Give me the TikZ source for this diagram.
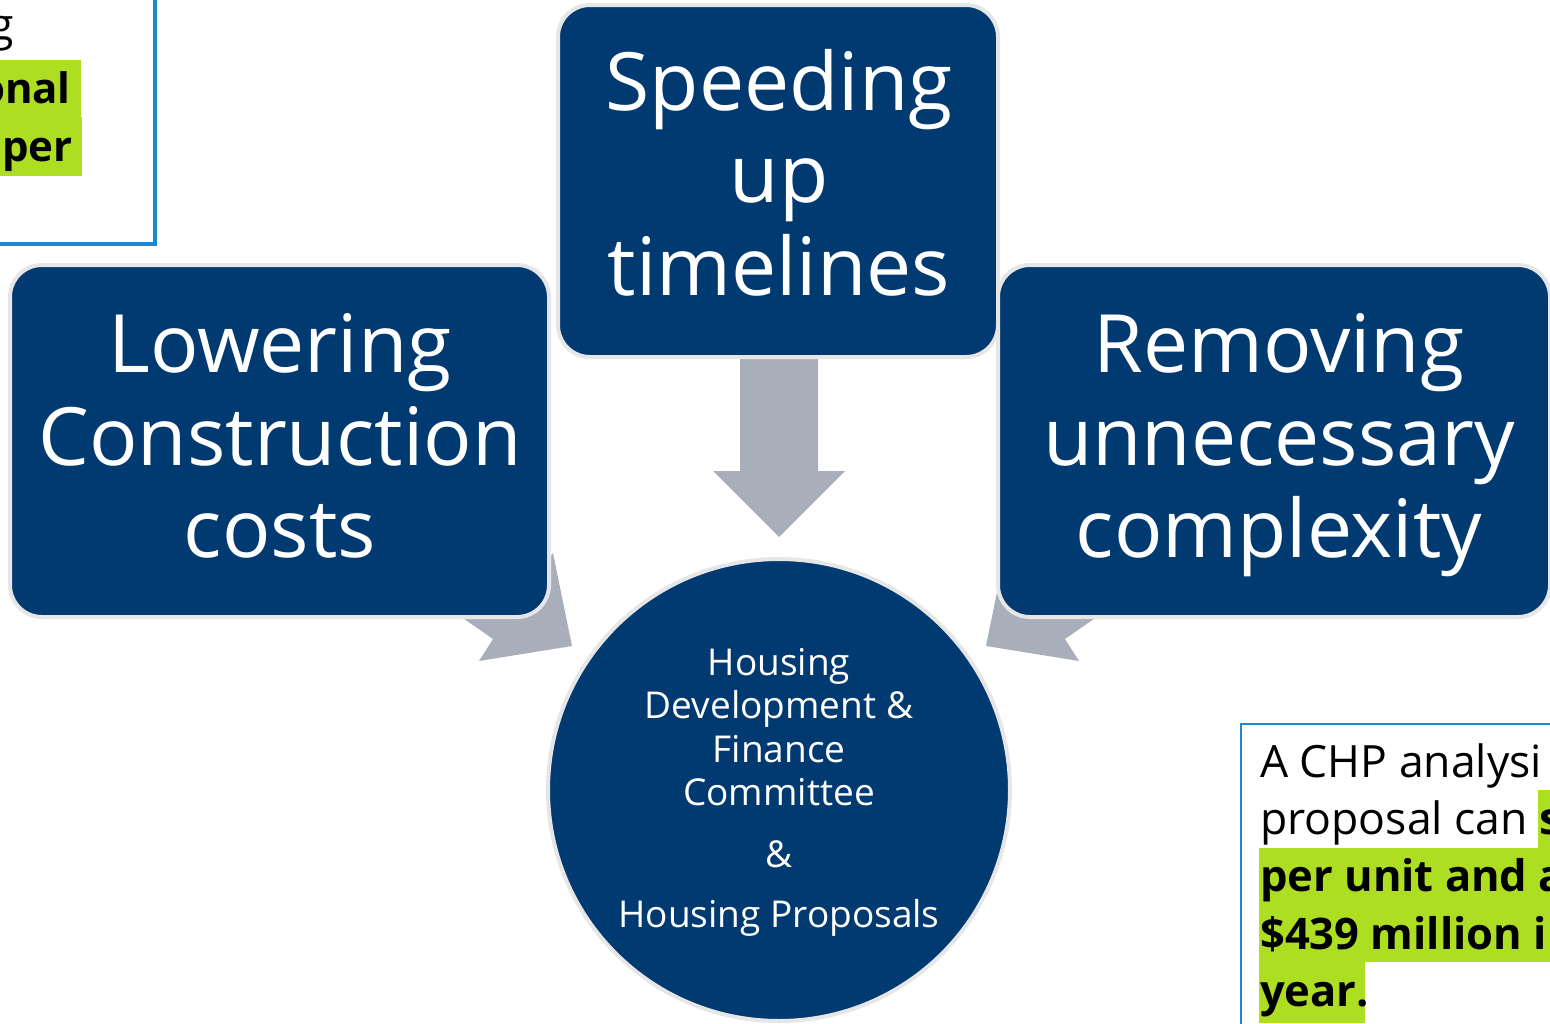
\documentclass[tikz,border=0pt]{standalone}
\usepackage{fontspec}
\setmainfont{Open Sans}
\definecolor{navy}{RGB}{0,58,112}
\definecolor{edgegray}{RGB}{230,230,230}
\definecolor{arrowgray}{RGB}{169,174,187}
\definecolor{hl}{RGB}{173,222,33}
\definecolor{frameblue}{RGB}{28,135,209}
\begin{document}
\begin{tikzpicture}[x=1pt,y=-1pt,
  box/.style={draw=edgegray, line width=4pt, fill=navy, rounded corners=32pt, inner sep=0pt},
  circ/.style={circle, draw=edgegray, line width=4pt, fill=navy, inner sep=0pt},
  big/.style={text=white, font=\fontsize{80.5}{92}\selectfont, inner sep=0pt, anchor=base},
  mid/.style={text=white, font=\fontsize{37}{44}\selectfont, inner sep=0pt, anchor=base},
  note/.style={text=black, font=\fontsize{44.5}{57}\selectfont, inner sep=0pt},
  notebold/.style={text=black, font=\fontsize{43.5}{57}\selectfont\bfseries, inner sep=0pt},
  blockarrow/.style={fill=arrowgray},
  frame/.style={draw=frameblue}
]
\useasboundingbox (0,0) rectangle (1550,1023);
\begin{scope}
\clip (0,0) rectangle (1550,1023);

% top-left note (cut off)
\fill[hl] (0,60) rectangle (81,117);
\fill[hl] (0,117) rectangle (82,176);
\node[note, anchor=base east] (tl1) at (14,40) {g};
\node[notebold, font=\fontsize{42}{57}\selectfont\bfseries, anchor=base east] (tl2) at (71,103) {onal};
\node[notebold, font=\fontsize{42}{57}\selectfont\bfseries, anchor=base east] (tl3) at (73,161) {per};
\draw[frame, line width=4pt] (-20,244) -| (155,-20);

% block arrows
\fill[blockarrow] (740,359) -- (818,359) -- (818,471) -- (845,471) -- (779,537) -- (713,471) -- (740,471) -- cycle;
\fill[blockarrow] (457,516) -- (539,573) -- (553,553) -- (572,646) -- (479,661) -- (493,639) -- (411,582) -- cycle;
\fill[blockarrow] (1101,516) -- (1019,573) -- (1005,553) -- (986,646) -- (1079,661) -- (1065,639) -- (1147,582) -- cycle;

% boxes
\node[box, minimum width=440pt, minimum height=352pt] (top) at (778,181) {};
\node[box, minimum width=539pt, minimum height=352pt] (left) at (279.5,441) {};
\node[box, minimum width=552pt, minimum height=352pt] (right) at (1274,441) {};
\node[circ, minimum size=462pt] (hub) at (779,790) {};

\node[big] (t1) at (779,110) {Speeding};
\node[big] (t2) at (779,202) {up};
\node[big] (t3) at (779,295) {timelines};

\node[big] (l1) at (280,372) {Lowering};
\node[big] (l2) at (280,465) {Construction};
\node[big] (l3) at (280,557) {costs};

\node[big] (r1) at (1279,372) {Removing};
\node[big] (r2) at (1279,465) {unnecessary};
\node[big] (r3) at (1279,557) {complexity};

\node[mid] (c1) at (779,675) {Housing};
\node[mid] (c2) at (779,718) {Development \&};
\node[mid] (c3) at (779,762) {Finance};
\node[mid] (c4) at (779,805) {Committee};
\node[mid] (c5) at (779,867) {\&};
\node[mid] (c6) at (779,927) {Housing Proposals};

% bottom-right note (cut off)
\fill[hl] (1538,790) rectangle (1550,848);
\fill[hl] (1259,848) rectangle (1550,962);
\fill[hl] (1259,962) rectangle (1365,1023);
\draw[frame, line width=2pt] (1241,1040) |- (1560,724);
\node[note, anchor=base west] (b1) at (1260,777) {A CHP analysi};
\node[note, anchor=base west] (b2) at (1260,834) {proposal can \textbf{s}};
\node[notebold, anchor=base west] (b3) at (1260,891) {per unit and a};
\node[notebold, anchor=base west] (b4) at (1260,949) {\$439 million i};
\node[notebold, anchor=base west] (b5) at (1260,1006) {year.};
\end{scope}
\end{tikzpicture}
\end{document}
